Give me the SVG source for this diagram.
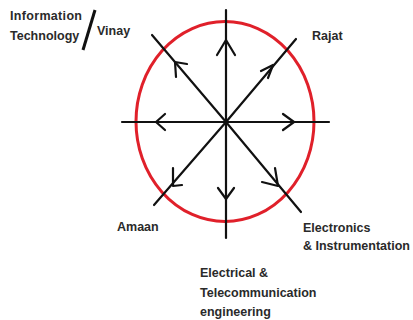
<svg xmlns="http://www.w3.org/2000/svg" width="413" height="320" viewBox="0 0 413 320">
<style>
.t{font-family:"Liberation Sans",Arial,sans-serif;font-weight:bold;font-size:12.5px;fill:#2a2a2a}
.ln{stroke:#111;stroke-width:2.2;fill:none;stroke-linecap:round}
.ar{stroke:#111;stroke-width:2.2;fill:none;stroke-linecap:round;stroke-linejoin:round}
</style>
<rect width="413" height="320" fill="#fff"/>
<g id="circle">
<ellipse cx="225" cy="121.5" rx="89" ry="100" fill="none" stroke="#e0202a" stroke-width="3"/>
</g>
<g id="connectors">
<line class="ln" x1="122" y1="122" x2="329" y2="122"/>
<line class="ln" x1="226" y1="10" x2="226" y2="238"/>
<line class="ln" x1="226" y1="122" x2="296" y2="39"/>
<line class="ln" x1="226" y1="122" x2="152" y2="35"/>
<line class="ln" x1="226" y1="122" x2="154" y2="205"/>
<line class="ln" x1="226" y1="122" x2="301" y2="212"/>
<polyline class="ar" points="217,55 226,40 235,55"/>
<polyline class="ar" points="283,114 294,122 283,130"/>
<polyline class="ar" points="165,114 156,122 165,130"/>
<polyline class="ar" points="218,188 226,199 234,188"/>
<polyline class="ar" points="261,71 273,65 268,78"/>
<polyline class="ar" points="187,64 175,62 176,77"/>
<polyline class="ar" points="173,168 173,186 182,185"/>
<polyline class="ar" points="262,182 278,186 275,168"/>
</g>
<g id="it">
<text class="t" x="10" y="20" textLength="72">Information</text>
<text class="t" x="10" y="40">Technology</text>
<line x1="95" y1="10" x2="83" y2="50" stroke="#111" stroke-width="3"/>
<text class="t" x="97" y="35">Vinay</text>
</g>
<g id="rajat"><text class="t" x="312" y="40">Rajat</text></g>
<g id="amaan"><text class="t" x="117" y="231">Amaan</text></g>
<g id="ei">
<text class="t" x="303" y="232">Electronics</text>
<text class="t" x="303" y="250">&amp; Instrumentation</text>
</g>
<g id="etc">
<text class="t" x="200" y="277">Electrical &amp;</text>
<text class="t" x="200" y="297">Telecommunication</text>
<text class="t" x="200" y="316">engineering</text>
</g>
</svg>
